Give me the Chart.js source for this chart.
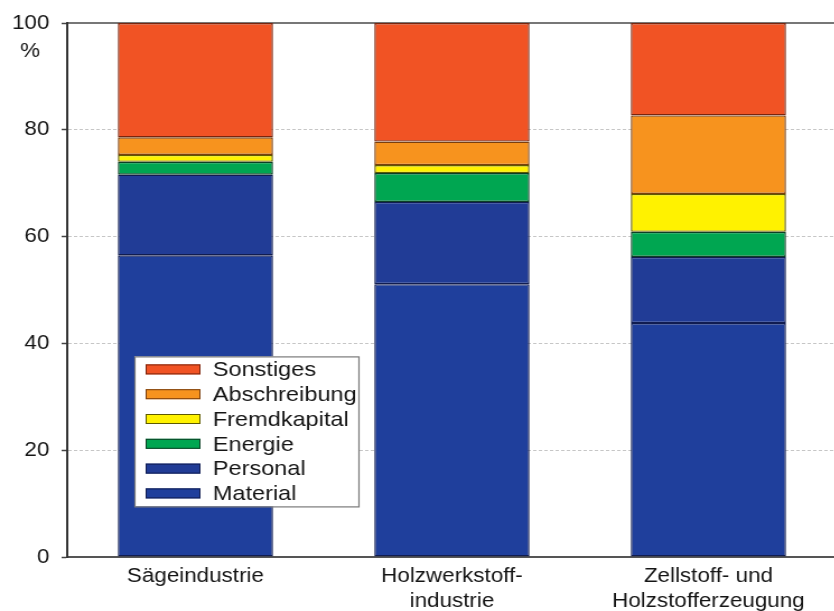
<!DOCTYPE html>
<html lang="de">
<head>
<meta charset="utf-8">
<title>Kostenstruktur der Holzindustrie</title>
<script src="https://cdn.jsdelivr.net/npm/chart.js@4.4.1/dist/chart.umd.min.js"></script>
<style>
  html, body { margin: 0; padding: 0; background: #fff; overflow: hidden; }
  #wrap { width: 834px; height: 611px; overflow: hidden; }
  /* the whole figure is a little wider than tall: stretch the canvas horizontally */
  #chart { transform: scaleX(1.12); transform-origin: 0 0; }
</style>
</head>
<body>
<div id="wrap"><canvas id="chart" width="747" height="611"></canvas></div>
<script>
// Kostenanteile in Prozent, von unten nach oben gestapelt
const categories = [['Sägeindustrie'], ['Holzwerkstoff-', 'industrie'], ['Zellstoff- und', 'Holzstofferzeugung']];
const material     = [56.5, 51.1, 43.8];
const personal     = [15.1, 15.4, 12.4];
const energie      = [2.4, 5.4, 4.7];
const fremdkapital = [1.3, 1.5, 7.1];
const abschreibung = [3.3, 4.4, 14.7];
const sonstiges    = [21.4, 22.2, 17.3];

const yMin = 0, yMax = 100, yStep = 20;
const yUnit = '%';

const FONT = "'Liberation Sans', Arial, Helvetica, sans-serif";
const INK = '#151515';
Chart.defaults.font.family = FONT;
Chart.defaults.color = INK;

function seg(label, data, fill, line) {
  return {
    label, data,
    backgroundColor: fill,
    borderColor: line,
    borderWidth: 1.4,
    borderSkipped: false,
    inflateAmount: 0,
    barPercentage: 0.605,
    categoryPercentage: 1
  };
}

// "%" under the top tick label
const unitLabel = {
  id: 'unitLabel',
  afterDraw(chart) {
    const {ctx, scales: {y}} = chart;
    ctx.save();
    ctx.font = '20px ' + FONT;
    ctx.fillStyle = INK;
    ctx.textAlign = 'center';
    ctx.textBaseline = 'middle';
    ctx.fillText(yUnit, 27, y.getPixelForValue(yMax) + 28);
    ctx.restore();
  }
};

// boxed legend sitting inside the first bar
const boxLegend = {
  id: 'boxLegend',
  afterDraw(chart) {
    const {ctx, chartArea, scales: {y}} = chart;
    const left = chartArea.left + 60;
    const top = y.getPixelForValue(40) + 13;
    const w = 200, h = 150, rowH = 24.8;
    ctx.save();
    ctx.fillStyle = '#fff';
    ctx.fillRect(left, top, w, h);
    ctx.strokeStyle = '#7a7a7a';
    ctx.lineWidth = 1.2;
    ctx.strokeRect(left + 0.5, top + 0.5, w, h);
    ctx.font = '21px ' + FONT;
    ctx.textBaseline = 'middle';
    const sets = chart.data.datasets.slice().reverse();
    sets.forEach((ds, i) => {
      const cy = top + 13 + i * rowH;
      ctx.fillStyle = ds.backgroundColor;
      ctx.fillRect(left + 10, cy - 5, 49, 10);
      ctx.lineWidth = 1;
      ctx.strokeStyle = ds.borderColor;
      ctx.strokeRect(left + 10.5, cy - 4.5, 48, 9);
      ctx.fillStyle = INK;
      ctx.fillText(ds.label, left + 70, cy + 1);
    });
    ctx.restore();
  }
};

new Chart(document.getElementById('chart'), {
  type: 'bar',
  data: {
    labels: categories,
    datasets: [
      seg('Material', material, '#1f3f9c', '#101c50'),
      seg('Personal', personal, '#213c96', '#101c50'),
      seg('Energie', energie, '#00a651', '#0b3f24'),
      seg('Fremdkapital', fremdkapital, '#fff200', '#5e5a00'),
      seg('Abschreibung', abschreibung, '#f7931e', '#7a3e0c'),
      seg('Sonstiges', sonstiges, '#f15324', '#7a240c')
    ]
  },
  options: {
    responsive: false,
    animation: false,
    layout: { padding: { top: 20, right: 0, bottom: 0, left: 0 } },
    plugins: { legend: { display: false }, tooltip: { enabled: false } },
    scales: {
      x: {
        stacked: true,
        grid: { display: false, drawTicks: false },
        border: { display: true, color: '#555', width: 2 },
        ticks: {
          padding: 7, maxRotation: 0, autoSkip: false,
          font: { size: 20, lineHeight: 1.25 }, color: INK
        },
        afterFit: s => { s.height = 54; }
      },
      xTop: {
        position: 'top',
        grid: { display: false, drawTicks: false },
        ticks: { display: false },
        border: { display: true, color: '#777', width: 2 },
        afterFit: s => { s.height = 0; }
      },
      y: {
        stacked: true,
        min: yMin, max: yMax,
        grid: {
          color: '#c6c6c6', lineWidth: 1,
          tickColor: '#444', tickLength: 5, tickWidth: 1.5, tickBorderDash: []
        },
        border: { display: true, color: '#333', width: 2, dash: [3, 2] },
        ticks: { stepSize: yStep, padding: 11, font: { size: 20 }, color: INK },
        afterFit: s => { s.width = 60; }
      }
    }
  },
  plugins: [unitLabel, boxLegend]
});
</script>
</body>
</html>
